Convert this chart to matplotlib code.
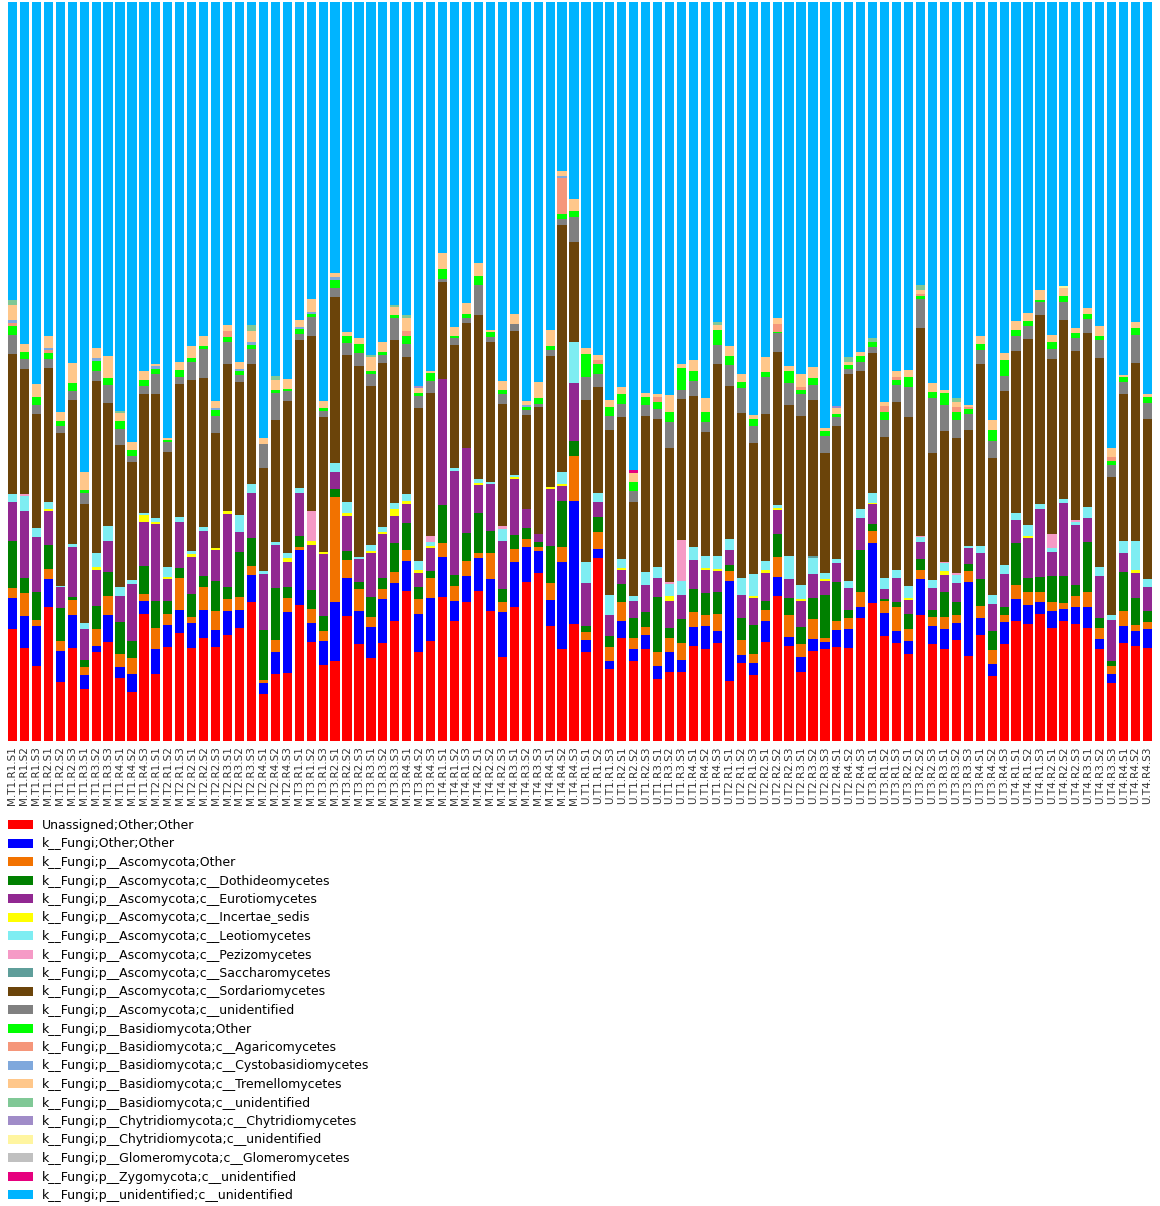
import matplotlib
matplotlib.use("Agg")
import matplotlib.pyplot as plt
import numpy as np

# ── Samples: site (M/U) x treatment T1-T4 x replicate R1-R4 x subsample S1-S3 ──
samples = [f"{site}.T{t}.R{r}.S{s}"
           for site in ("M", "U")
           for t in range(1, 5)
           for r in range(1, 5)
           for s in range(1, 4)]
N = len(samples)

taxa = [
    "Unassigned;Other;Other",
    "k__Fungi;Other;Other",
    "k__Fungi;p__Ascomycota;Other",
    "k__Fungi;p__Ascomycota;c__Dothideomycetes",
    "k__Fungi;p__Ascomycota;c__Eurotiomycetes",
    "k__Fungi;p__Ascomycota;c__Incertae_sedis",
    "k__Fungi;p__Ascomycota;c__Leotiomycetes",
    "k__Fungi;p__Ascomycota;c__Pezizomycetes",
    "k__Fungi;p__Ascomycota;c__Saccharomycetes",
    "k__Fungi;p__Ascomycota;c__Sordariomycetes",
    "k__Fungi;p__Ascomycota;c__unidentified",
    "k__Fungi;p__Basidiomycota;Other",
    "k__Fungi;p__Basidiomycota;c__Agaricomycetes",
    "k__Fungi;p__Basidiomycota;c__Cystobasidiomycetes",
    "k__Fungi;p__Basidiomycota;c__Tremellomycetes",
    "k__Fungi;p__Basidiomycota;c__unidentified",
    "k__Fungi;p__Chytridiomycota;c__Chytridiomycetes",
    "k__Fungi;p__Chytridiomycota;c__unidentified",
    "k__Fungi;p__Glomeromycota;c__Glomeromycetes",
    "k__Fungi;p__Zygomycota;c__unidentified",
    "k__Fungi;p__unidentified;c__unidentified",
]

colors = [
    "#ff0000", "#0000ff", "#f27200", "#008000", "#912891", "#ffff00",
    "#7eedf2", "#f59ac6", "#5f9e9a", "#6b440a", "#808080", "#00ff00",
    "#f5967a", "#7fa8dc", "#ffc78a", "#80c896", "#a08cc8", "#fff5a0",
    "#c0c0c0", "#e6007e", "#00b4ff",
]

# ── Relative abundance (%) per sample ─────────────────────────────────────────
unassigned = [
    15.2, 12.6, 10.1, 18.1, 8.0, 12.6, 7.0, 12.0, 13.4, 8.5, 6.7, 17.2, 9.1, 12.8, 14.6, 12.6,
    14.0, 12.7, 14.3, 15.3, 18.8, 6.3, 9.1, 9.2, 18.4, 13.4, 10.3, 10.9, 16.9, 13.1, 11.3, 13.3,
    16.2, 20.3, 12.1, 13.6, 19.5, 16.2, 18.8, 20.3, 17.6, 11.3, 18.1, 21.6, 22.7, 15.6, 12.4, 15.8,
    12.0, 24.7, 9.7, 14.0, 10.8, 12.4, 8.4, 9.3, 9.3, 12.9, 12.5, 13.3, 8.1, 10.5, 8.9, 13.4,
    19.6, 12.9, 9.4, 12.2, 12.4, 12.8, 12.6, 16.6, 18.6, 14.2, 13.3, 11.7, 17.0, 13.1, 12.4, 13.6,
    11.5, 14.3, 8.8, 13.1, 16.2, 15.8, 17.2, 15.3, 16.3, 15.8, 15.3, 12.4, 7.8, 13.3, 12.9, 12.6,
]
fungi_other = [
    4.2, 4.3, 5.4, 3.8, 4.2, 4.4, 1.9, 0.9, 3.7, 1.5, 2.4, 1.8, 3.4, 2.9, 3.2, 3.4,
    3.8, 2.3, 3.3, 2.4, 3.7, 1.5, 2.9, 8.2, 7.5, 2.6, 3.2, 7.9, 5.2, 4.5, 4.1, 5.9,
    5.2, 4.1, 5.1, 5.8, 5.4, 2.8, 3.5, 4.4, 4.3, 6.1, 6.1, 4.7, 3.1, 3.4, 11.8, 16.7,
    1.6, 1.3, 1.1, 2.3, 1.6, 1.9, 1.8, 2.7, 1.6, 2.5, 3.1, 1.6, 13.5, 1.2, 1.6, 2.9,
    2.6, 1.2, 2.0, 1.6, 1.0, 2.3, 2.6, 1.5, 8.1, 3.1, 1.7, 1.8, 4.9, 2.5, 2.8, 2.3,
    10.1, 2.3, 1.6, 3.0, 3.0, 2.6, 1.6, 2.3, 1.6, 2.4, 2.8, 1.4, 1.2, 2.3, 2.0, 2.5,
]
asco_other = [
    1.3, 3.1, 0.9, 1.4, 1.3, 2.1, 1.1, 2.2, 2.5, 1.8, 2.2, 0.9, 2.8, 1.5, 4.3, 0.8,
    3.1, 2.6, 1.7, 1.7, 1.2, 0.5, 1.7, 1.9, 0.4, 1.8, 1.4, 14.2, 2.4, 3.0, 1.4, 1.4,
    1.5, 1.5, 2.0, 2.7, 1.9, 2.0, 2.0, 0.7, 3.5, 1.4, 1.8, 1.0, 0.5, 2.4, 2.0, 6.0,
    1.2, 2.2, 2.0, 2.5, 1.5, 1.1, 1.9, 2.0, 2.4, 2.1, 1.5, 2.3, 1.4, 1.9, 1.3, 1.4,
    2.7, 3.0, 1.7, 2.7, 0.6, 1.2, 1.4, 2.1, 1.7, 1.7, 3.2, 1.7, 1.3, 1.2, 1.5, 1.2,
    1.5, 1.7, 1.9, 1.0, 1.9, 1.7, 1.4, 1.2, 0.8, 1.4, 2.1, 1.5, 1.1, 2.0, 0.8, 1.0,
]
dothideomycetes = [
    6.4, 2.0, 3.7, 3.3, 4.5, 0.4, 0.9, 3.2, 3.3, 4.3, 2.3, 3.8, 3.6, 1.8, 1.4, 3.1,
    1.5, 4.1, 1.5, 6.1, 3.8, 6.8, 7.0, 1.5, 1.4, 2.6, 2.0, 1.1, 1.2, 1.0, 2.7, 1.5,
    3.9, 3.7, 1.7, 0.9, 5.2, 1.4, 3.9, 5.5, 3.0, 1.8, 1.9, 1.6, 0.6, 5.0, 6.3, 2.1,
    0.8, 2.1, 1.4, 2.4, 2.7, 2.0, 7.4, 1.3, 3.2, 3.0, 2.9, 3.0, 0.8, 3.0, 3.9, 1.3,
    3.2, 2.2, 2.4, 2.8, 5.8, 5.2, 1.1, 5.7, 0.9, 0.2, 0.7, 2.0, 1.5, 0.9, 3.5, 1.7,
    0.9, 3.7, 2.6, 1.0, 5.7, 1.9, 2.1, 3.5, 3.6, 1.5, 6.7, 1.3, 0.7, 5.3, 3.7, 1.5,
]
eurotiomycetes = [
    5.3, 9.1, 7.5, 4.5, 2.8, 6.7, 4.3, 4.8, 4.1, 3.5, 7.6, 6.0, 10.4, 3.0, 6.1, 5.1,
    6.1, 4.2, 9.9, 2.8, 6.1, 7.5, 5.9, 3.4, 5.9, 6.1, 8.4, 2.4, 4.8, 3.1, 6.0, 5.9,
    3.7, 2.6, 1.9, 3.1, 17.1, 14.2, 11.5, 3.8, 6.4, 6.5, 7.6, 2.5, 1.2, 7.6, 2.0, 7.8,
    5.8, 2.0, 2.8, 1.9, 2.4, 3.7, 2.6, 3.7, 3.3, 4.0, 3.1, 2.8, 2.1, 3.1, 3.7, 3.7,
    3.2, 2.6, 3.5, 3.3, 1.8, 2.6, 3.0, 4.3, 2.7, 1.4, 3.2, 1.8, 2.3, 3.1, 2.3, 2.6,
    2.2, 3.5, 3.7, 4.5, 3.1, 5.5, 9.2, 3.3, 9.9, 8.2, 3.2, 5.7, 5.6, 2.6, 3.4, 3.3,
]
leotiomycetes = [
    1.0, 2.1, 1.2, 1.0, 0.2, 0.4, 0.7, 1.8, 2.1, 1.2, 0.6, 0.3, 0.6, 1.3, 0.7, 0.4,
    0.5, 0.0, 0.0, 2.2, 1.2, 0.4, 0.4, 0.7, 0.6, 0.0, 0.0, 1.2, 1.5, 0.3, 0.8, 0.7,
    0.8, 0.9, 1.3, 0.5, 0.0, 0.3, 0.0, 0.5, 0.3, 1.6, 0.2, 0.0, 0.0, 0.0, 1.5, 5.6,
    2.8, 1.2, 2.8, 1.2, 0.6, 1.8, 1.5, 1.5, 1.8, 1.7, 1.5, 1.7, 1.5, 2.4, 2.9, 1.3,
    0.4, 3.1, 1.9, 2.2, 0.9, 0.5, 0.9, 1.2, 1.3, 1.4, 1.1, 1.7, 0.6, 1.0, 1.0, 1.1,
    0.3, 0.9, 1.2, 1.2, 0.9, 1.4, 0.6, 0.5, 0.5, 0.3, 1.5, 1.3, 0.7, 1.5, 3.9, 1.0,
]
sordariomycetes = [
    19.0, 16.9, 15.5, 18.1, 20.7, 19.6, 16.2, 23.3, 16.7, 19.3, 16.0, 16.2, 16.7, 15.6, 18.1, 23.3,
    20.2, 15.5, 19.9, 18.0, 16.2, 14.0, 16.5, 20.6, 20.1, 23.7, 18.3, 22.5, 20.0, 25.9, 21.5, 22.3,
    22.1, 18.5, 20.6, 19.3, 13.1, 16.7, 16.8, 22.3, 18.9, 16.6, 19.5, 12.7, 17.2, 17.7, 33.5, 13.4,
    21.9, 14.4, 22.3, 19.3, 12.7, 21.1, 20.0, 18.1, 19.1, 20.4, 16.8, 26.1, 20.7, 22.3, 17.7, 19.8,
    20.7, 20.4, 22.9, 21.1, 16.2, 18.1, 28.0, 18.7, 18.9, 19.2, 22.8, 22.8, 28.2, 17.3, 17.7, 18.2,
    15.7, 24.6, 18.6, 23.5, 22.0, 25.2, 25.6, 23.8, 24.3, 22.9, 23.6, 28.2, 18.6, 19.9, 24.1, 21.7,
]
asco_unidentified = [
    2.5, 1.4, 1.1, 1.2, 1.0, 1.2, 1.5, 1.4, 2.4, 2.1, 0.8, 1.0, 2.7, 1.3, 0.9, 2.4,
    3.9, 2.3, 2.9, 1.0, 2.1, 3.2, 3.7, 1.3, 0.8, 2.5, 0.8, 1.2, 1.6, 1.7, 1.7, 1.0,
    3.0, 1.8, 1.7, 1.7, 0.4, 1.0, 0.7, 4.0, 0.7, 1.3, 1.0, 0.8, 0.3, 0.9, 0.8, 3.5,
    3.2, 1.7, 1.9, 1.7, 1.5, 1.4, 1.3, 3.5, 1.2, 2.0, 1.4, 2.6, 2.8, 3.3, 2.4, 5.0,
    2.6, 3.1, 3.0, 2.0, 2.3, 1.2, 0.8, 1.2, 0.8, 2.3, 2.4, 4.0, 3.9, 7.4, 3.5, 2.5,
    2.2, 2.0, 2.3, 2.1, 2.0, 1.7, 1.8, 1.3, 2.4, 1.8, 1.8, 2.5, 1.7, 1.7, 3.8, 2.2,
]
basidio_other = [
    1.3, 1.0, 1.2, 0.9, 0.7, 1.0, 0.3, 1.3, 0.9, 1.1, 0.8, 0.9, 0.8, 0.3, 0.9, 0.5,
    0.4, 0.8, 0.7, 0.5, 0.6, 0.0, 0.3, 0.3, 0.6, 0.4, 0.4, 1.0, 0.9, 1.2, 0.4, 0.5,
    0.4, 1.1, 0.4, 1.0, 1.4, 0.2, 0.6, 1.2, 0.7, 0.5, 0.0, 0.4, 0.9, 0.5, 0.6, 0.7,
    3.1, 1.4, 1.3, 1.4, 1.3, 1.1, 1.0, 1.3, 3.0, 1.4, 1.4, 2.0, 1.2, 0.9, 0.9, 0.8,
    0.2, 1.6, 0.5, 1.0, 0.6, 0.4, 0.5, 0.8, 0.8, 1.0, 0.7, 1.4, 0.4, 0.8, 1.7, 1.0,
    0.6, 0.8, 1.5, 2.2, 0.8, 0.7, 0.3, 0.9, 0.8, 0.6, 0.7, 0.5, 0.5, 0.7, 0.9, 0.8,
]
tremellomycetes = [
    2.0, 1.0, 1.7, 1.6, 1.2, 2.7, 2.5, 1.4, 3.0, 1.1, 1.1, 1.2, 0.3, 0.3, 1.2, 1.7,
    1.3, 1.0, 0.8, 0.9, 1.5, 0.8, 1.4, 1.4, 1.0, 1.7, 1.0, 0.6, 0.6, 0.8, 1.8, 1.3,
    1.1, 1.8, 0.6, 0.3, 2.1, 1.2, 1.5, 1.8, 0.3, 1.2, 1.3, 0.5, 2.1, 2.1, 0.7, 1.7,
    0.8, 0.7, 0.9, 1.0, 1.2, 0.5, 0.4, 2.3, 0.5, 1.5, 1.9, 0.7, 1.3, 1.0, 0.5, 1.9,
    0.9, 0.7, 1.7, 1.4, 0.4, 0.8, 0.4, 0.6, 0.0, 0.6, 0.8, 1.0, 0.5, 1.2, 0.4, 0.7,
    0.3, 1.1, 1.3, 0.9, 1.2, 1.1, 1.4, 1.0, 1.1, 0.8, 0.8, 1.4, 1.2, 0.2, 0.8, 0.3,
]
fungi_unidentified = [
    40.3, 46.3, 51.7, 45.2, 55.5, 48.9, 63.6, 46.8, 47.9, 55.3, 59.6, 50.0, 49.0, 59.1, 48.7, 46.6,
    45.3, 54.0, 43.8, 48.7, 43.7, 59.1, 50.6, 51.0, 43.0, 40.2, 54.0, 36.7, 44.6, 45.6, 47.9, 46.1,
    41.0, 42.5, 52.0, 50.0, 34.0, 44.0, 40.7, 35.3, 44.4, 51.3, 42.3, 54.1, 51.5, 44.4, 22.8, 26.6,
    46.8, 47.7, 53.9, 52.1, 63.3, 52.9, 53.1, 53.3, 49.0, 48.4, 53.6, 43.4, 46.6, 50.4, 56.0, 48.1,
    42.8, 49.2, 50.5, 49.4, 57.7, 54.7, 48.1, 47.4, 45.4, 54.1, 50.1, 49.7, 38.3, 51.7, 52.4, 53.6,
    54.6, 45.2, 56.7, 47.5, 43.2, 42.1, 39.0, 45.1, 38.4, 44.1, 41.4, 43.8, 60.4, 50.5, 43.4, 53.1,
]

# Minor classes: only the samples where they occur (sample index -> %)
incertae_sedis = {3: 0.3, 7: 0.5, 11: 0.9, 12: 0.3, 13: 0.3, 15: 0.3, 17: 0.3, 18: 0.5,
                  23: 0.5, 25: 0.5, 26: 0.3, 28: 0.3, 30: 0.3, 31: 0.3, 32: 0.9, 33: 0.4,
                  34: 0.3, 35: 0.3, 39: 0.2, 42: 0.3, 45: 0.3, 46: 0.3, 51: 0.3, 55: 0.7,
                  58: 0.4, 59: 0.3, 62: 0.3, 63: 0.4, 64: 0.3, 66: 0.3, 68: 0.3, 72: 0.2,
                  75: 0.3, 78: 0.5, 85: 0.3, 94: 0.4}
pezizomycetes = {1: 0.2, 25: 4.1, 35: 0.9, 41: 0.3, 55: 0.4, 56: 5.6, 76: 0.2, 78: 0.2,
                 79: 0.3, 87: 1.9, 89: 0.3}
saccharomycetes = {67: 0.2}
agaricomycetes = {0: 0.3, 3: 0.4, 18: 0.8, 33: 0.7, 46: 4.9, 49: 0.5, 54: 0.6, 64: 1.0,
                  66: 0.4, 73: 0.8, 74: 0.4, 76: 0.3, 79: 0.7, 80: 0.3, 92: 0.5}
cystobasidiomycetes = {0: 0.5, 3: 0.3, 7: 0.4, 12: 0.3, 17: 0.3, 19: 0.3, 20: 0.3, 24: 0.3,
                       25: 0.3, 27: 0.4, 43: 0.2, 46: 0.3}
basidio_unidentified = {0: 0.7, 9: 0.3, 20: 0.9, 22: 0.6, 30: 0.3, 32: 0.3, 33: 0.3,
                        59: 0.3, 70: 0.6, 72: 0.5, 76: 0.7, 79: 0.5}
chytridiomycetes = {34: 0.3, 69: 0.3}
chytrid_unidentified = {88: 0.3}
glomeromycetes = {}
zygo_unidentified = {52: 0.4}


def expand(sparse):
    out = np.zeros(N)
    for i, v in sparse.items():
        out[i] = v
    return out


table = np.array([
    unassigned, fungi_other, asco_other, dothideomycetes, eurotiomycetes,
    expand(incertae_sedis), leotiomycetes, expand(pezizomycetes),
    expand(saccharomycetes), sordariomycetes, asco_unidentified, basidio_other,
    expand(agaricomycetes), expand(cystobasidiomycetes), tremellomycetes,
    expand(basidio_unidentified), expand(chytridiomycetes),
    expand(chytrid_unidentified), expand(glomeromycetes),
    expand(zygo_unidentified), fungi_unidentified,
], dtype=float)

# relative abundance: each sample sums to 100 %
table = table / table.sum(axis=0) * 100

# ── Plot ──────────────────────────────────────────────────────────────────────
W, H = 1160, 1206
fig = plt.figure(figsize=(W / 100, H / 100), dpi=100)
ax = fig.add_axes([6.5 / W, 1 - 741 / H, 1147 / W, 739 / H])

x = np.arange(N)
bottom = np.zeros(N)
handles = []
for row, label, col in zip(table, taxa, colors):
    bars = ax.bar(x, row, bottom=bottom, width=0.77, color=col,
                  linewidth=0, label=label)
    handles.append(bars)
    bottom += row

ax.set_xlim(-0.5, N - 0.5)
ax.set_ylim(0, 100)
ax.set_xticks(x)
ax.set_xticklabels(samples, rotation=90, fontsize=7.5, color="#333333")
ax.tick_params(axis="x", length=0, pad=4)
ax.set_yticks([])
for side in ("top", "right", "bottom", "left"):
    ax.spines[side].set_visible(False)

fig.legend(handles=handles, labels=taxa, loc="upper left",
           bbox_to_anchor=(3 / W, 1 - 814 / H), borderaxespad=0,
           frameon=False, fontsize=9, labelspacing=0.44,
           handlelength=2.0, handletextpad=0.7)

fig.savefig("out.png", dpi=100)
